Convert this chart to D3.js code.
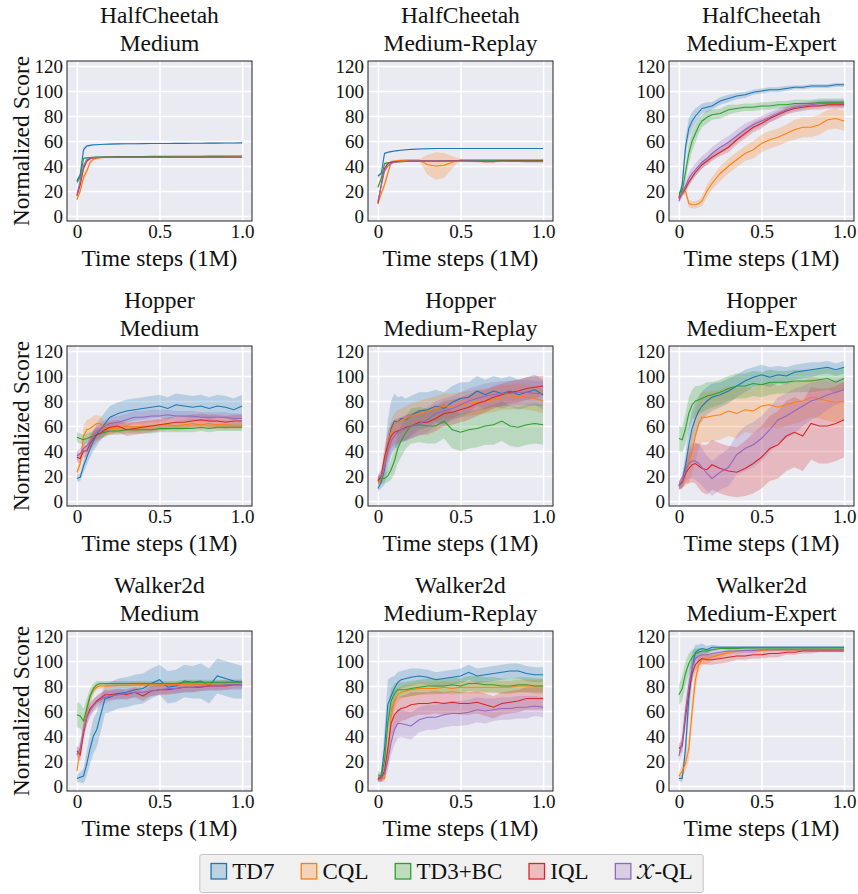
<!DOCTYPE html>
<html>
<head>
<meta charset="utf-8">
<script src="https://cdn.jsdelivr.net/npm/d3@7"></script>
<style>
  body { margin: 0; background: #fff; }
</style>
</head>
<body>
<div id="chart"></div>
<script>
// Step 0: data
//= ================================
var steps = [0, .02, .04, .06, .08, .1, .12, .14, .17, .2, .25, .3, .35, .4, .45, .5, .55, .6, .65, .7, .75, .8, .85, .9, .95, 1.0];

var methods = ["TD7", "CQL", "TD3+BC", "IQL", "\u{1D4B3}-QL"];
var colors = ["#1f77b4", "#ff7f0e", "#2ca02c", "#d62728", "#9467bd"];
var envNames = ["HalfCheetah", "Hopper", "Walker2d"];
var dataNames = ["Medium", "Medium-Replay", "Medium-Expert"];
var yTicks = [0, 20, 40, 60, 80, 100, 120];
var xTicks = [0, 0.5, 1.0];
var xTickLabels = ["0", "0.5", "1.0"];

// HalfCheetah Medium
var hcM_td7 = [28,33,53,56,56.5,57,57,57.2,57.4,57.5,57.7,57.8,57.8,57.9,58,58,58,58.1,58.1,58.2,58.2,58.3,58.3,58.4,58.4,58.5];
var hcM_td7_sd = [2,2,2,1,.6,.5,.4,.4,.3,.3,.3,.3,.3,.3,.3,.3,.3,.3,.3,.3,.3,.3,.3,.3,.3,.3];
var hcM_cql = [13,20,31,36,43,45.5,46.3,46.6,46.8,47,47,47.1,47.1,47.2,47.2,47.2,47.2,47.3,47.3,47.3,47.3,47.3,47.3,47.3,47.3,47.3];
var hcM_cql_sd = [1.5,2,3,3,2,1,.6,.5,.4,.4,.4,.4,.4,.4,.4,.4,.4,.4,.4,.4,.4,.4,.4,.4,.4,.4];
var hcM_td3 = [27,31,46,46.5,46.8,47,47.1,47.2,47.3,47.4,47.5,47.5,47.6,47.6,47.7,47.7,47.7,47.8,47.8,47.8,47.8,47.9,47.9,47.9,48,48];
var hcM_td3_sd = [2,2,1,.5,.4,.4,.4,.4,.4,.4,.4,.4,.4,.4,.4,.4,.4,.4,.4,.4,.4,.4,.4,.4,.4,.4];
var hcM_iql = [16,25,38,44,46,46.5,46.7,46.8,46.9,47,47,47,47,47,47,47,47,47,47,47,47,47,47,47,47,47];
var hcM_iql_sd = [1.5,2,2,1.5,1,.6,.4,.4,.4,.4,.4,.4,.4,.4,.4,.4,.4,.4,.4,.4,.4,.4,.4,.4,.4,.4];
var hcM_xql = [17,28,40,45,46.5,46.8,47,47,47,47,47,47,47,47,47,47,47,47,47,47,47,47,47,47,47,47];
var hcM_xql_sd = [1.5,2,2,1.5,1,.6,.4,.4,.4,.4,.4,.4,.4,.4,.4,.4,.4,.4,.4,.4,.4,.4,.4,.4,.4,.4];

// HalfCheetah Medium-Replay
var hcR_td7 = [32,34,50,51,51.5,52,52.3,52.6,53,53.3,53.6,53.8,54,54,54,54,54,54,54,54,54,54,54,54,54,54];
var hcR_td7_sd = [1.5,1.5,1,.6,.5,.5,.4,.4,.4,.4,.4,.4,.4,.4,.4,.4,.4,.4,.4,.4,.4,.4,.4,.4,.4,.4];
var hcR_cql = [10,18,25,34,43,44,44.3,44.5,44.7,44.8,44.8,41,40,40.5,43,45,45,45,45,45,45,45,45,45,45,45];
var hcR_cql_sd = [1.5,2,3,3,2,1,.8,.6,.5,.5,.6,8,11,10,5,.6,.5,.5,.5,.5,.5,.5,.5,.5,.5,.5];
var hcR_td3 = [23,30,42,42.5,43,43.2,43.4,43.5,43.6,43.8,44,44,44,44.2,44.3,44.3,44.3,44.3,44.4,44.4,44.4,44.4,44.4,44.4,44.4,44.4];
var hcR_td3_sd = [1.5,2,1,.6,.5,.5,.4,.4,.4,.4,.4,.4,.4,.4,.4,.4,.4,.4,.4,.4,.4,.4,.4,.4,.4,.4];
var hcR_iql = [10,25,38,42,43,43.3,43.5,43.7,43.8,44,44,44,44,44,44.2,44.2,44,43.8,43.5,43.5,44,44,44,44,44,44];
var hcR_iql_sd = [1.5,2,2,1,.6,.5,.4,.4,.4,.4,.4,.4,.4,.4,.4,.4,.6,.8,.8,.6,.4,.4,.4,.4,.4,.4];
var hcR_xql = [12,24,36,40,42,43,43.4,43.6,43.8,44,44,44,44,44,44,44,44,44,43.8,43.8,43.8,43.6,43.6,43.5,43.5,43.5];
var hcR_xql_sd = [1.5,2,2,1.5,1,.6,.4,.4,.4,.4,.4,.4,.4,.4,.4,.4,.4,.4,.4,.4,.4,.4,.4,.4,.4,.4];

// HalfCheetah Medium-Expert
var hcE_td7 = [15,25,55,70,76,80,83,86,87,88,92,94,96,97,99,100,101,101,102,103,103,104,104,104,105,105];
var hcE_td7_sd = [2,4,8,8,7,6,5,4,4,3,3,3,2.5,2.5,2,2,2,2,2,1.5,1.5,1.5,1.5,1.5,1.5,1.5];
var hcE_cql = [14,20,20,10,9,9,10,12,20,26,34,40,45,50,53,58,61,63,66,69,71,71,73,77,78,76];
var hcE_cql_sd = [2,3,3,3,3,3,3,4,5,5,6,6,6,6,7,7,7,7,7,8,8,8,8,8,8,8];
var hcE_td3 = [18,20,35,50,60,66,72,76,79,81,82,85,86,87,87,88,88,89,89,90,90,90,91,91,91,91];
var hcE_td3_sd = [2,3,6,8,8,7,6,5,5,4,4,4,3,3,3,3,3,3,3,3,3,3,3,3,3,3];
var hcE_iql = [14,18,22,27,31,35,38,41,44,47,51,55,61,66,71,74,78,81,84,86,87,88,88,89,89,89];
var hcE_iql_sd = [2,2,3,3,3,3,3,3,3,3,3,4,4,4,4,4,3,3,3,3,3,3,3,3,3,3];
var hcE_xql = [12,18,24,30,34,37,40,43,46,50,55,59,64,69,73,76,79,82,85,87,88,89,90,90,90,90];
var hcE_xql_sd = [2,3,4,4,5,5,5,5,5,5,5,5,5,5,4,4,4,4,3,3,3,3,3,3,3,3];

// Hopper Medium
var hoM_td7 = [18,19,28,35,42,48,53,57,62,67,70,72,73,74,75,76,74,77,76,75,76,74,76,75,73,76];
var hoM_td7_sd = [3,3,5,6,7,8,9,9,9,9,9,9,9,9,9,9,9,9,9,9,9,9,9,9,9,9];
var hoM_cql = [23,30,52,57,58,60,62,62,58,58,58,60,59,60,60,61,61,60,61,62,61,62,61,61,60,60];
var hoM_cql_sd = [3,5,8,8,8,8,7,6,5,5,4,4,4,4,4,4,4,4,4,4,4,4,4,4,3,3];
var hoM_td3 = [51,50,49,50,51,52,53,54,55,56,56,57,57,57,57,58,58,58,58,58,59,58,59,59,59,59];
var hoM_td3_sd = [4,4,4,4,4,4,4,4,4,3,3,3,3,3,3,3,3,3,3,3,3,3,3,3,3,3];
var hoM_iql = [35,34,40,40,46,50,53,54,57,59,60,57,58,59,60,61,62,63,63,64,65,64,64,63,64,64];
var hoM_iql_sd = [4,4,5,5,6,6,6,5,5,5,5,5,5,5,5,5,5,5,5,5,5,5,5,5,5,5];
var hoM_xql = [36,38,42,44,48,52,55,57,60,62,63,65,67,67,68,68,69,68,68,68,67,67,67,67,66,66];
var hoM_xql_sd = [4,4,4,5,5,5,5,5,5,5,5,5,5,5,5,5,4,4,4,4,4,4,4,4,4,4];

// Hopper Medium-Replay
var hoR_td7 = [10,15,25,45,58,64,63,66,65,68,72,73,76,74,79,82,83,88,85,88,86,88,85,87,89,85];
var hoR_td7_sd = [3,5,12,20,22,22,20,18,17,16,15,14,13,13,13,13,12,12,12,12,12,12,12,12,12,12];
var hoR_cql = [15,18,28,45,55,60,63,64,66,68,70,72,74,76,76,77,78,79,80,81,83,83,84,83,82,80];
var hoR_cql_sd = [3,5,8,10,10,10,10,10,10,10,10,10,10,10,10,10,10,10,10,10,10,10,10,10,10,10];
var hoR_td3 = [17,18,18,20,25,32,42,48,55,60,61,60,60,64,57,55,57,58,60,61,64,60,59,61,62,61];
var hoR_td3_sd = [3,4,4,5,8,10,12,13,13,14,14,14,14,14,15,15,15,15,15,16,16,16,16,16,16,16];
var hoR_iql = [16,20,35,45,52,55,56,57,59,60,63,63,66,70,71,73,75,78,80,83,85,87,88,90,91,92];
var hoR_iql_sd = [3,5,8,10,10,10,10,10,10,10,10,10,10,10,10,10,10,10,9,9,9,9,9,9,9,8];
var hoR_xql = [18,20,28,40,48,52,55,57,58,60,62,65,70,72,74,77,80,82,84,85,86,86,87,87,86,86];
var hoR_xql_sd = [3,5,8,10,10,10,10,10,10,10,10,10,10,10,10,10,10,10,10,10,10,10,10,10,10,10];

// Hopper Medium-Expert
var hoE_td7 = [13,15,28,45,58,66,72,76,80,83,85,88,92,96,99,101,99,101,100,103,104,105,106,107,105,107];
var hoE_td7_sd = [3,5,10,14,14,13,12,12,11,11,10,10,9,9,8,8,8,7,7,6,6,6,5,5,5,5];
var hoE_cql = [12,16,22,30,40,52,62,67,67,68,69,72,70,73,72,76,77,75,77,79,80,83,82,80,79,80];
var hoE_cql_sd = [3,5,10,15,18,20,20,20,20,20,20,20,20,18,18,18,18,17,17,17,16,16,16,16,16,16];
var hoE_td3 = [50,49,58,70,77,80,81,82,84,85,87,90,92,92,94,93,95,95,95,96,96,96,97,98,95,98];
var hoE_td3_sd = [10,10,12,13,12,12,11,11,11,10,10,10,10,10,10,10,10,9,9,9,9,9,9,9,9,9];
var hoE_iql = [12,15,22,26,29,30,28,26,25,29,26,24,23,26,30,35,42,45,52,55,52,62,60,60,62,65];
var hoE_iql_sd = [3,5,8,12,14,16,18,19,20,20,20,20,20,22,24,25,26,27,28,28,28,29,30,30,30,30];
var hoE_xql = [12,16,24,30,32,32,30,27,22,18,23,27,37,42,45,50,57,65,68,72,76,80,82,85,87,89];
var hoE_xql_sd = [3,5,8,12,14,15,15,15,14,14,14,15,16,18,18,18,18,18,18,18,16,15,14,12,10,10];

// Walker2d Medium
var wkM_td7 = [6,7,8,18,30,40,45,55,70,71,74,75,77,78,82,85,79,80,84,83,84,80,88,86,84,83];
var wkM_td7_sd = [3,4,6,10,12,14,14,14,12,12,12,12,12,12,12,12,13,13,13,13,14,14,14,14,14,13];
var wkM_cql = [12,30,45,62,72,77,79,80,80,80,80.5,80.5,81,81,81,81,81,81,81.5,81.5,81.5,81.5,82,82,82,82];
var wkM_cql_sd = [3,4,5,4,3,3,2,2,2,2,2,2,2,2,2,2,2,2,2,2,2,2,2,2,2,2];
var wkM_td3 = [57,56,52,62,72,78,81,82,82,82,82,82,82,82,82,82,82,82,83,83,83,83,83,83,83,83];
var wkM_td3_sd = [10,10,10,8,6,4,3,2,2,2,2,2,2,2,2,2,2,2,2,2,2,2,2,2,2,2];
var wkM_iql = [28,25,42,55,62,65,68,70,73,73,74,73,75,72,76,77,77,78,79,79,79,80,80,80,81,81];
var wkM_iql_sd = [4,5,6,6,5,5,4,4,4,4,4,4,4,4,4,4,4,4,4,4,3,3,3,3,3,3];
var wkM_xql = [25,30,45,55,60,64,67,69,71,72,73,74,75,75,76,77,78,78,79,79,80,80,80,81,81,81];
var wkM_xql_sd = [5,6,6,6,5,5,5,5,5,4,4,4,4,4,4,4,4,4,4,4,4,4,4,4,4,4];

// Walker2d Medium-Replay
var wkR_td7 = [5,8,30,65,72,78,83,85,86,87,88,87,85,86,87,88,91,88,89,90,91,92,92,90,89,89];
var wkR_td7_sd = [2,4,15,20,15,10,8,7,7,7,6,6,6,6,6,6,6,6,6,6,6,6,6,6,6,6];
var wkR_cql = [6,6,6,25,55,68,73,75,76,77,78,78,78,79,78,79,79,79,79,79,79,79,80,80,80,80];
var wkR_cql_sd = [2,2,3,8,10,8,6,5,5,5,5,5,5,5,5,5,5,5,5,5,5,5,5,5,5,5];
var wkR_td3 = [9,8,20,50,68,74,77,77,77,78,79,80,80,80,81,80,82,82,81,81,80,80,81,81,80,80];
var wkR_td3_sd = [3,3,8,12,10,8,6,6,6,6,6,6,6,6,6,6,6,6,6,6,6,6,6,6,6,6];
var wkR_iql = [6,6,12,30,50,57,60,62,63,65,66,66,67,66,67,66,66,67,65,63,66,67,68,70,70,70];
var wkR_iql_sd = [2,3,5,10,12,12,11,10,10,10,9,9,9,9,9,9,9,9,9,9,9,9,9,9,9,9];
var wkR_xql = [5,6,10,20,35,45,50,50,49,48,53,55,55,57,58,58,59,61,60,61,62,62,63,63,64,63];
var wkR_xql_sd = [2,3,5,8,10,12,12,11,11,11,10,10,10,10,10,10,10,10,10,9,9,9,9,9,8,8];

// Walker2d Medium-Expert
var wkE_td7 = [6,6,30,70,95,107,109,110,109,111,111,111,111,111,111,111,111,111,111,111,111,111,111,111,111,111];
var wkE_td7_sd = [2,3,10,15,12,6,4,4,3,2,1,1,1,1,1,1,1,1,1,1,1,1,1,1,1,1];
var wkE_cql = [8,12,18,30,60,85,97,101,102,103,105,107,108,108,108.5,108.5,109,109,109,109,109,109,109,109,109,109];
var wkE_cql_sd = [3,5,6,10,12,10,6,5,4,3,2,2,1,1,1,1,1,1,1,1,1,1,1,1,1,1];
var wkE_td3 = [73,78,90,98,103,106,107,108,108,109,110,110,110,110.5,110.5,110.5,110.5,110.5,110.5,110.5,110.5,110.5,110.5,110.5,110.5,110.5];
var wkE_td3_sd = [8,10,10,8,6,4,3,2,2,1,1,1,1,1,1,1,1,1,1,1,1,1,1,1,1,1];
var wkE_iql = [30,32,55,75,90,97,100,102,101,101,102,103,104,104,105,105,106,106,107,107,108,108,108,108,108,108];
var wkE_iql_sd = [4,5,8,8,6,5,4,4,4,4,4,4,3,3,3,3,3,3,2,2,2,2,1,1,1,1];
var wkE_xql = [24,35,60,80,95,102,104,105,105,106,107,108,108,108.5,108.5,109,109,109,109,109,109,109,109,109,109,109];
var wkE_xql_sd = [6,8,10,10,8,5,4,3,3,3,2,2,2,2,2,1,1,1,1,1,1,1,1,1,1,1];

// panels in row order; each holds [mean, sd] per method
var panels = [
  [[hcM_td7, hcM_td7_sd], [hcM_cql, hcM_cql_sd], [hcM_td3, hcM_td3_sd], [hcM_iql, hcM_iql_sd], [hcM_xql, hcM_xql_sd]],
  [[hcR_td7, hcR_td7_sd], [hcR_cql, hcR_cql_sd], [hcR_td3, hcR_td3_sd], [hcR_iql, hcR_iql_sd], [hcR_xql, hcR_xql_sd]],
  [[hcE_td7, hcE_td7_sd], [hcE_cql, hcE_cql_sd], [hcE_td3, hcE_td3_sd], [hcE_iql, hcE_iql_sd], [hcE_xql, hcE_xql_sd]],
  [[hoM_td7, hoM_td7_sd], [hoM_cql, hoM_cql_sd], [hoM_td3, hoM_td3_sd], [hoM_iql, hoM_iql_sd], [hoM_xql, hoM_xql_sd]],
  [[hoR_td7, hoR_td7_sd], [hoR_cql, hoR_cql_sd], [hoR_td3, hoR_td3_sd], [hoR_iql, hoR_iql_sd], [hoR_xql, hoR_xql_sd]],
  [[hoE_td7, hoE_td7_sd], [hoE_cql, hoE_cql_sd], [hoE_td3, hoE_td3_sd], [hoE_iql, hoE_iql_sd], [hoE_xql, hoE_xql_sd]],
  [[wkM_td7, wkM_td7_sd], [wkM_cql, wkM_cql_sd], [wkM_td3, wkM_td3_sd], [wkM_iql, wkM_iql_sd], [wkM_xql, wkM_xql_sd]],
  [[wkR_td7, wkR_td7_sd], [wkR_cql, wkR_cql_sd], [wkR_td3, wkR_td3_sd], [wkR_iql, wkR_iql_sd], [wkR_xql, wkR_xql_sd]],
  [[wkE_td7, wkE_td7_sd], [wkE_cql, wkE_cql_sd], [wkE_td3, wkE_td3_sd], [wkE_iql, wkE_iql_sd], [wkE_xql, wkE_xql_sd]]
];

// Step 1: layout
//= ================================
var svgWidth = 858;
var svgHeight = 894;
var plotW = 185, plotH = 160;
var colLeft = [67, 368, 669];
var rowTop = [61, 346, 631];
var serif = "Liberation Serif";

var svg = d3.select("#chart").append("svg")
  .attr("width", svgWidth)
  .attr("height", svgHeight);

// helper so every label gets the same serif face
function label(sel, size) {
  return sel.style("font-family", serif).style("font-size", size + "px").attr("fill", "#111");
}

var x = d3.scaleLinear().domain([-0.06, 1.06]).range([0, plotW]);
var y = d3.scaleLinear().domain([-4, 124]).range([plotH, 0]);

var band = d3.area()
  .x(function(d) { return x(d.x); })
  .y0(function(d) { return y(d.m - d.s); })
  .y1(function(d) { return y(d.m + d.s); });
var line = d3.line()
  .x(function(d) { return x(d.x); })
  .y(function(d) { return y(d.m); });

panels.forEach(function(series, p) {
  var row = Math.floor(p / 3), col = p % 3;
  var g = svg.append("g")
    .attr("transform", "translate(" + colLeft[col] + "," + rowTop[row] + ")");

  g.append("rect").attr("width", plotW).attr("height", plotH).attr("fill", "#eaeaf2");

  // white grid comes from the axes with full-length ticks
  var yAxis = d3.axisLeft(y).tickValues(yTicks).tickSize(-plotW).tickPadding(4);
  var xAxis = d3.axisBottom(x).tickValues(xTicks).tickSize(-plotH).tickPadding(3)
    .tickFormat(function(d, i) { return xTickLabels[i]; });

  var ya = g.append("g").call(yAxis);
  var xa = g.append("g").attr("transform", "translate(0," + plotH + ")").call(xAxis);
  [ya, xa].forEach(function(a) {
    a.attr("font-family", null).attr("font-size", null);
    a.select(".domain").remove();
    a.selectAll("line").attr("stroke", "#fff").attr("stroke-width", 1.6);
    label(a.selectAll("text"), 19);
  });

  g.append("clipPath").attr("id", "clip" + p)
    .append("rect").attr("width", plotW).attr("height", plotH);
  var inner = g.append("g").attr("clip-path", "url(#clip" + p + ")");

  var rows = series.map(function(s) {
    return steps.map(function(t, i) { return { x: t, m: s[0][i], s: s[1][i] }; });
  });

  rows.forEach(function(r, k) {
    inner.append("path").attr("d", band(r))
      .attr("fill", colors[k]).attr("fill-opacity", 0.25).attr("stroke", "none");
  });
  rows.forEach(function(r, k) {
    inner.append("path").attr("d", line(r))
      .attr("fill", "none").attr("stroke", colors[k]).attr("stroke-width", 1.1);
  });

  g.append("rect").attr("width", plotW).attr("height", plotH)
    .attr("fill", "none").attr("stroke", "#222").attr("stroke-width", 1);

  // two-line title
  label(g.append("text"), 23.5).attr("x", plotW / 2).attr("y", -38.5)
    .attr("text-anchor", "middle").text(envNames[row]);
  label(g.append("text"), 23.5).attr("x", plotW / 2).attr("y", -10.5)
    .attr("text-anchor", "middle").text(dataNames[col]);

  label(g.append("text"), 23.5).attr("x", plotW / 2).attr("y", plotH + 45)
    .attr("text-anchor", "middle").text("Time steps (1M)");

  if (col === 0) {
    label(g.append("text"), 23.5)
      .attr("transform", "translate(" + (29 - colLeft[0]) + "," + (plotH / 2) + ") rotate(-90)")
      .attr("text-anchor", "middle").text("Normalized Score");
  }
});

// Step 2: legend
//= ================================
var legend = svg.append("g");
var legBox = legend.append("rect")
  .attr("y", 854.5).attr("height", 38).attr("rx", 2)
  .attr("fill", "#f0f0f0").attr("stroke", "#c4c4c4").attr("stroke-width", 1);
var cursor = 0;
var items = legend.append("g");
methods.forEach(function(name, k) {
  var it = items.append("g").attr("transform", "translate(" + cursor + ",0)");
  it.append("rect").attr("x", 0.75).attr("y", 863.5).attr("width", 15.5).attr("height", 15.5)
    .attr("fill", colors[k]).attr("fill-opacity", 0.25)
    .attr("stroke", colors[k]).attr("stroke-width", 1.3);
  var t = label(it.append("text"), 23).attr("x", 22).attr("y", 879);
  if (name.indexOf("-QL") > 0) {
    // calligraphic X as in the paper
    t.append("tspan").style("font-family", "STIX Two Math").text(name.slice(0, 2));
    t.append("tspan").text(name.slice(2));
  } else {
    t.text(name);
  }
  cursor += 22 + t.node().getComputedTextLength() + 26;
});
var itemsW = cursor - 26;
var legCenter = 451.5;
var startX = legCenter - itemsW / 2;
items.attr("transform", "translate(" + startX + ",0)");
legBox.attr("x", startX - 10.5).attr("width", itemsW + 21);
</script>
</body>
</html>
